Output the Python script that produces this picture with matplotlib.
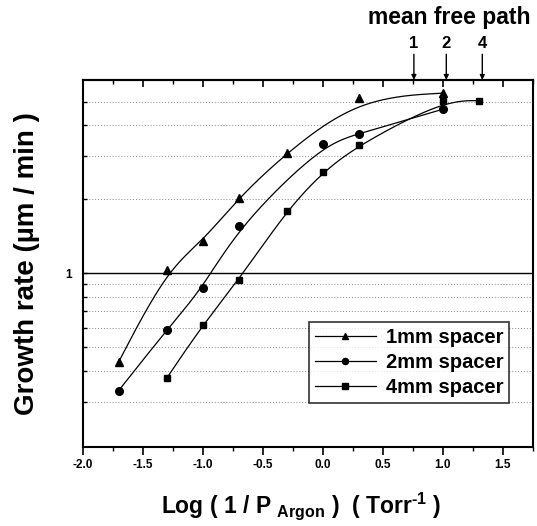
import numpy as np
import matplotlib
matplotlib.use("Agg")
import matplotlib.pyplot as plt
from matplotlib.ticker import FixedLocator, NullFormatter, MultipleLocator

plt.rcParams['font.family'] = ['Liberation Sans', 'DejaVu Sans']
plt.rcParams['font.weight'] = 'bold'
plt.rcParams['mathtext.fontset'] = 'custom'
plt.rcParams['mathtext.rm'] = 'Liberation Sans:bold'
plt.rcParams['mathtext.bf'] = 'Liberation Sans:bold'

# data
x_1mm = [-1.7, -1.3, -1.0, -0.7, -0.3, 0.3, 1.0]
y_1mm = [0.436, 1.03, 1.35, 2.03, 3.10, 5.16, 5.41]
x_2mm = [-1.7, -1.3, -1.0, -0.7, 0.0, 0.3, 1.0]
y_2mm = [0.333, 0.588, 0.869, 1.55, 3.35, 3.69, 4.65]
x_4mm = [-1.3, -1.0, -0.7, -0.3, 0.0, 0.3, 1.0, 1.3]
y_4mm = [0.374, 0.616, 0.939, 1.80, 2.58, 3.33, 5.04, 5.04]

mfp_x = [0.76, 1.03, 1.33]
mfp_labels = ['1', '2', '4']

xticks = [-2.0, -1.5, -1.0, -0.5, 0.0, 0.5, 1.0, 1.5]
grid_y = [0.3, 0.4, 0.5, 0.6, 0.7, 0.8, 0.9, 2, 3, 4, 5]


def bspline(x, y, n=40):
    # clamped uniform cubic B-spline, data points as control points (log y)
    P = np.column_stack([x, np.log10(y)])
    P = np.vstack([P[0], P[0], P, P[-1], P[-1]])
    t = np.linspace(0, 1, n)
    b0 = (1 - t) ** 3 / 6
    b1 = (3 * t ** 3 - 6 * t ** 2 + 4) / 6
    b2 = (-3 * t ** 3 + 3 * t ** 2 + 3 * t + 1) / 6
    b3 = t ** 3 / 6
    pts = []
    for i in range(len(P) - 3):
        seg = (np.outer(b0, P[i]) + np.outer(b1, P[i + 1]) +
               np.outer(b2, P[i + 2]) + np.outer(b3, P[i + 3]))
        pts.append(seg)
    pts = np.vstack(pts)
    return pts[:, 0], 10 ** pts[:, 1]


fig = plt.figure(figsize=(5.37, 5.26), dpi=100)
ax = fig.add_axes([0.154, 0.151, 0.838, 0.697])
ax.set_yscale('log')
ax.set_xlim(-2.0, 1.75)
ax.set_ylim(0.197, 6.12)

for gy in grid_y:
    ax.axhline(gy, color='#888888', lw=0.7, ls=(0, (1, 2)), zorder=0)
ax.axhline(1, color='black', lw=1.0, zorder=1)

series = [(x_1mm, y_1mm, '^', 6, '1mm spacer'),
          (x_2mm, y_2mm, 'o', 5.5, '2mm spacer'),
          (x_4mm, y_4mm, 's', 5, '4mm spacer')]
for xs, ys, mk, ms, lab in series:
    cx, cy = bspline(xs, ys)
    ax.plot(cx, cy, color='black', lw=0.9, zorder=2)
    ax.plot(xs, ys, ls='none', marker=mk, ms=ms, color='black', zorder=3)
    ax.plot([], [], color='black', lw=0.9, marker=mk, ms=ms * 0.8, label=lab)

leg = ax.legend(loc='upper left', bbox_to_anchor=(0.503, 0.341), frameon=True,
                fancybox=False, edgecolor='black', fontsize=14.5, handlelength=3.0,
                borderpad=0.3, labelspacing=0.3, handletextpad=0.5,
                borderaxespad=0)
leg.get_frame().set_linewidth(1.2)

ax.xaxis.set_major_locator(FixedLocator(xticks))
ax.xaxis.set_minor_locator(MultipleLocator(0.25))
ax.set_xticklabels(['%.1f' % v for v in xticks], fontsize=8.5, fontweight='bold')
ax.tick_params(axis='x', which='major', direction='out', length=6, width=1.2, pad=3)
ax.tick_params(axis='x', which='minor', direction='out', length=3, width=1.0)
secx = ax.secondary_xaxis('top')
secx.xaxis.set_major_locator(FixedLocator(xticks))
secx.xaxis.set_minor_locator(MultipleLocator(0.25))
secx.set_xticklabels([])
secx.tick_params(axis='x', which='major', direction='in', length=5, width=1.2)
secx.tick_params(axis='x', which='minor', direction='in', length=3, width=1.0)
secx.spines['top'].set_linewidth(1.5)

ax.yaxis.set_major_locator(FixedLocator([1]))
ax.yaxis.set_minor_locator(FixedLocator(grid_y))
ax.yaxis.set_minor_formatter(NullFormatter())
ax.set_yticklabels(['1'], fontsize=8.5, fontweight='bold')
ax.tick_params(axis='y', which='both', direction='in', length=3, width=1.0, pad=8)

for sp in ax.spines.values():
    sp.set_linewidth(1.5)

ax.set_ylabel('Growth rate (\u00b5m / min )', fontsize=20, fontweight='bold', labelpad=18)
ax.set_xlabel('Log ( 1 / P $_{\\mathbf{Argon}}$ )  ( Torr$^{\\mathbf{\u20101}}$ )',
              fontsize=16.5, fontweight='bold', labelpad=14)
ax.xaxis.label.set_x(0.485)

fig.text(0.836, 0.967, 'mean free path', fontsize=16.5, fontweight='bold',
         ha='center', va='center')
for mx, lab in zip(mfp_x, mfp_labels):
    ax.annotate('', xy=(mx, 1.0), xycoords=('data', 'axes fraction'),
                xytext=(mx, 1.07), textcoords=('data', 'axes fraction'),
                arrowprops=dict(arrowstyle='-|>', color='black', lw=1.0,
                                mutation_scale=7, shrinkA=0, shrinkB=0))
    ax.text(mx, 1.1, lab, transform=ax.get_xaxis_transform(), fontsize=12,
            fontweight='bold', ha='center', va='center')

fig.savefig('out.png', dpi=100)
